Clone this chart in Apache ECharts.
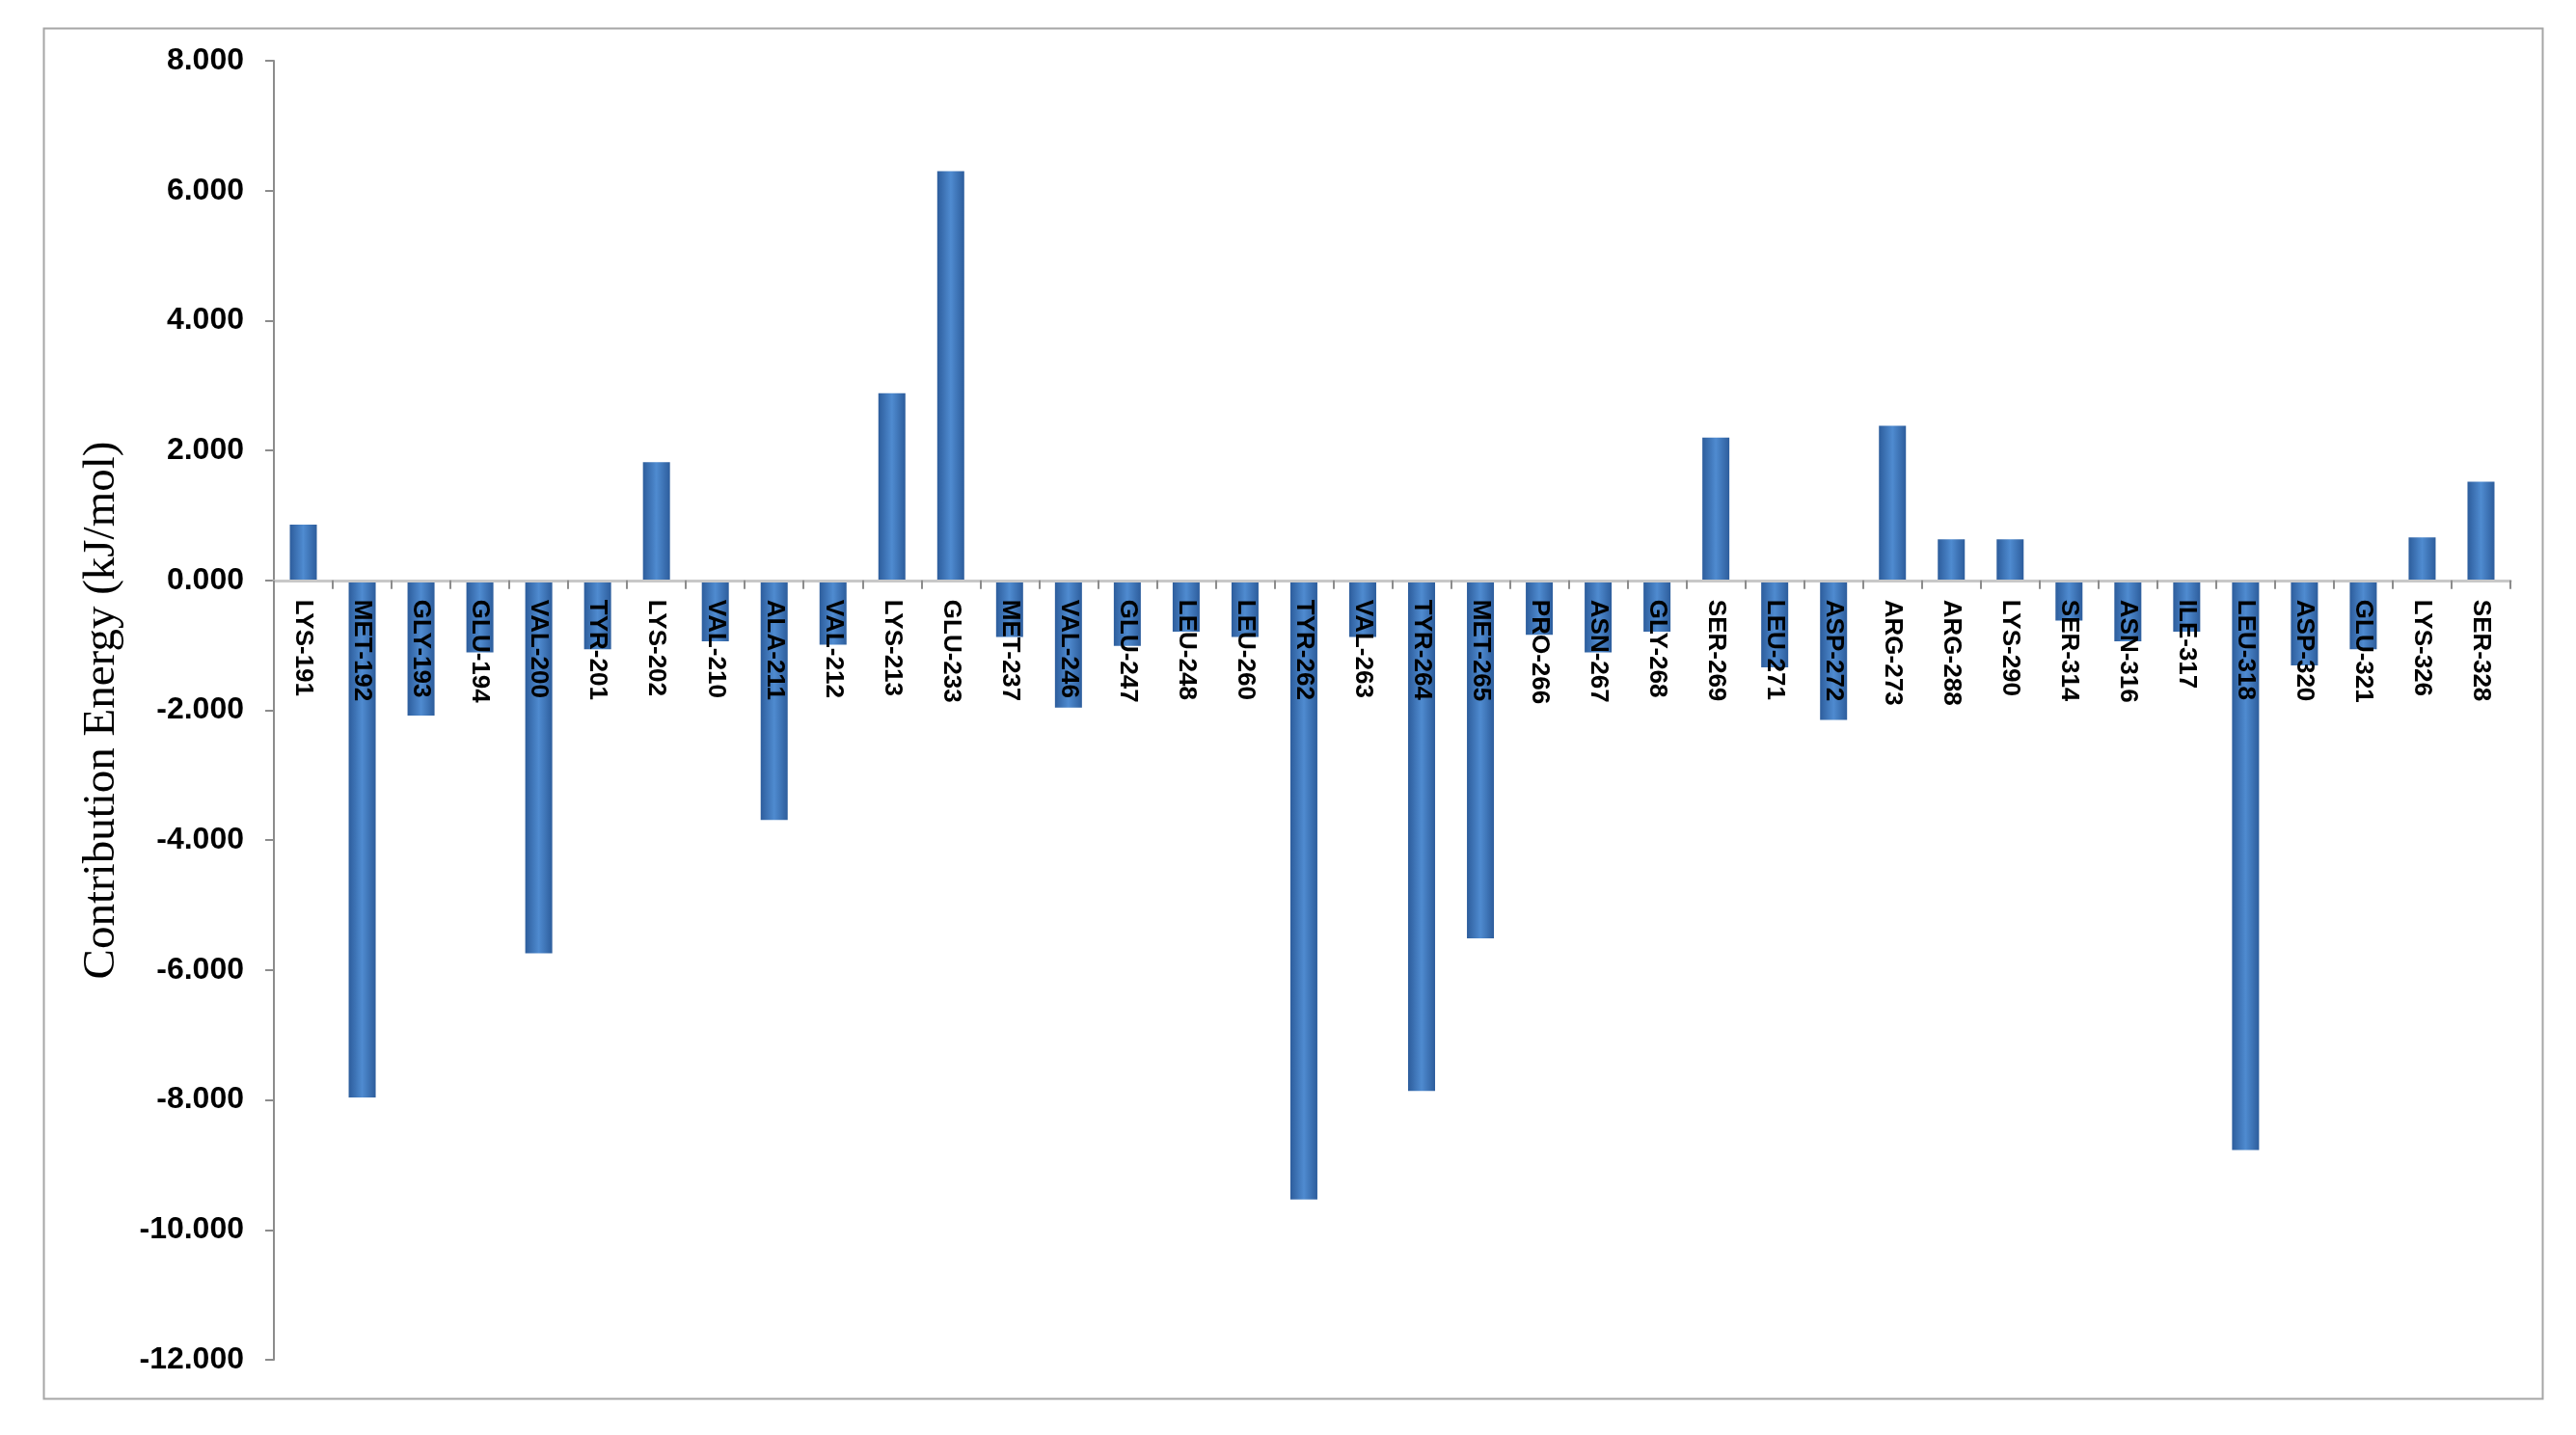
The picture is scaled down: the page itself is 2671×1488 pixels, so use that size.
<!DOCTYPE html>
<html>
<head>
<meta charset="utf-8">
<script src="https://cdn.jsdelivr.net/npm/echarts@6/dist/echarts.min.js"></script>
<style>
html, body { margin: 0; padding: 0; background: #fff; }
#chartmain { width: 2671px; height: 1488px; }
</style>
</head>
<body>
<div id="chartmain"></div>
<script>
var residues = ['LYS-191', 'MET-192', 'GLY-193', 'GLU-194', 'VAL-200', 'TYR-201', 'LYS-202', 'VAL-210',
	'ALA-211', 'VAL-212', 'LYS-213', 'GLU-233', 'MET-237', 'VAL-246', 'GLU-247', 'LEU-248', 'LEU-260',
	'TYR-262', 'VAL-263', 'TYR-264', 'MET-265', 'PRO-266', 'ASN-267', 'GLY-268', 'SER-269', 'LEU-271',
	'ASP-272', 'ARG-273', 'ARG-288', 'LYS-290', 'SER-314', 'ASN-316', 'ILE-317', 'LEU-318', 'ASP-320',
	'GLU-321', 'LYS-326', 'SER-328'];
var energy = [0.86, -7.96, -2.08, -1.11, -5.74, -1.06, 1.82, -0.94,
	-3.69, -0.99, 2.88, 6.30, -0.87, -1.96, -1.01, -0.79, -0.87,
	-9.53, -0.87, -7.86, -5.51, -0.84, -1.11, -0.79, 2.20, -1.34,
	-2.15, 2.38, 0.63, 0.63, -0.62, -0.94, -0.79, -8.77, -1.31,
	-1.06, 0.66, 1.52];
var yMin = -12, yMax = 8, yStep = 2;

// plot box in pixels
var gridTop = 63, gridBottom = 78, chartH = 1488;
var plotH = chartH - gridTop - gridBottom;
// shift the category axis up to the zero line
var zeroOffset = -plotH * (0 - yMin) / (yMax - yMin);

var option = {
	backgroundColor : '#ffffff',
	animation : false,
	graphic : [ {
		type : 'rect',
		left : 43,
		top : 27,
		shape : { width : 2591, height : 1421 },
		style : { fill : 'none', stroke : '#a6a6a6', lineWidth : 2 },
		z : -1
	} ],
	grid : {
		left : 284,
		right : 68,
		top : gridTop,
		bottom : gridBottom,
		outerBoundsMode : 'none'
	},
	xAxis : {
		type : 'category',
		data : residues,
		z : 5,
		offset : zeroOffset,
		axisLine : { onZero : false, lineStyle : { color : '#c8c8c8', width : 3 } },
		axisTick : { show : true, length : 9, lineStyle : { color : '#8c8c8c', width : 2 } },
		axisLabel : {
			rotate : -90,
			margin : 20,
			interval : 0,
			color : '#000',
			fontWeight : 'bold',
			fontFamily : 'Liberation Sans',
			fontSize : 26
		}
	},
	yAxis : {
		type : 'value',
		min : yMin,
		max : yMax,
		interval : yStep,
		name : 'Contribution Energy (kJ/mol)',
		nameLocation : 'middle',
		nameGap : 155,
		nameTextStyle : {
			fontFamily : 'Liberation Serif',
			fontSize : 47,
			color : '#000'
		},
		splitLine : { show : false },
		axisLine : { show : true, lineStyle : { color : '#8c8c8c', width : 2 } },
		axisTick : { show : true, length : 9, lineStyle : { color : '#8c8c8c', width : 2 } },
		axisLabel : {
			margin : 31,
			color : '#000',
			fontWeight : 'bold',
			fontFamily : 'Liberation Sans',
			fontSize : 32,
			formatter : function(v) { return v.toFixed(3); }
		}
	},
	series : [ {
		name : 'Contribution Energy',
		type : 'bar',
		data : energy,
		barWidth : 28,
		itemStyle : {
			color : new echarts.graphic.LinearGradient(0, 0, 1, 0, [
				{ offset : 0, color : '#2d5d9c' },
				{ offset : 0.5, color : '#4f8bd0' },
				{ offset : 1, color : '#2d5d9c' }
			])
		}
	} ]
};
var myChart = echarts.init(document.getElementById('chartmain'));
myChart.setOption(option);
</script>
</body>
</html>
